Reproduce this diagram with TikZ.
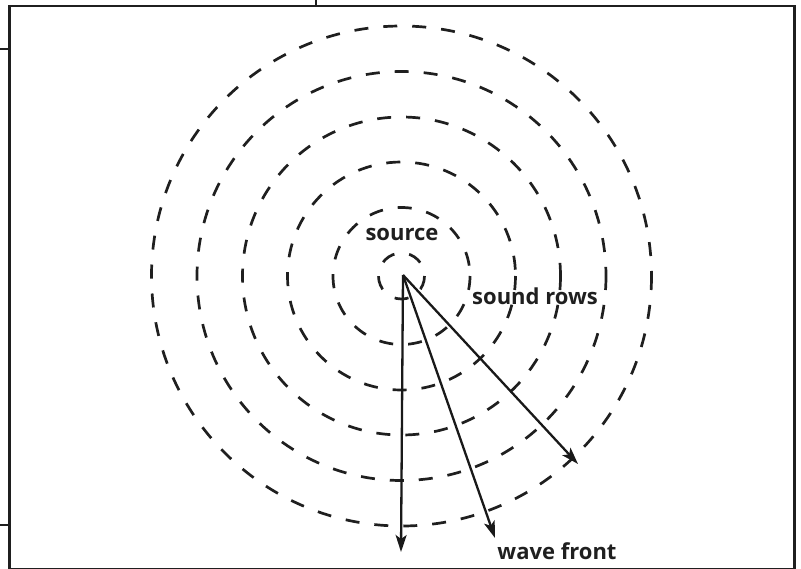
\documentclass[tikz,border=0pt]{standalone}
\usepackage{fontspec}
\setmainfont{Open Sans}
\usetikzlibrary{arrows.meta}
\begin{document}
\begin{tikzpicture}[x=1pt,y=-1pt,
  frame/.style={line width=2.8pt,draw=black!88},
  tickline/.style={line width=2.4pt,draw=black!88},
  wave/.style={line width=2.7pt,draw=black!88,dash pattern=on 14pt off 15pt},
  ray/.style={line width=2.3pt,draw=black!90,-{Stealth[length=17pt,width=11pt,inset=4pt]}},
  lbl/.style={font=\bfseries\fontsize{22}{26}\selectfont,text=black!88,inner sep=0pt}]
\useasboundingbox (0,0) rectangle (801,568);
\clip (0,0) rectangle (801,568);
\draw[frame] (9.5,6) rectangle (794.5,569);
\draw[tickline] (0,49) -- (9.5,49);
\draw[tickline] (0,525) -- (9.5,525);
\draw[tickline] (316,0) -- (316,6);
\coordinate (c) at (401.5,276);
\foreach \r in {23,68.5,114,159,204.5,250}
  \draw[wave] (c) circle[radius=\r];
\coordinate (src) at (403,275);
\coordinate (e1) at (401,552);
\coordinate (e2) at (495,538);
\coordinate (e3) at (578,464);
\draw[ray] (src) -- (e1);
\draw[ray] (src) -- (e2);
\draw[ray] (src) -- (e3);
\node[lbl] (source) at (402,234) {source};
\node[lbl] (rows) at (535,296) {sound rows};
\node[lbl] (front) at (557,551) {wave front};
\end{tikzpicture}
\end{document}
